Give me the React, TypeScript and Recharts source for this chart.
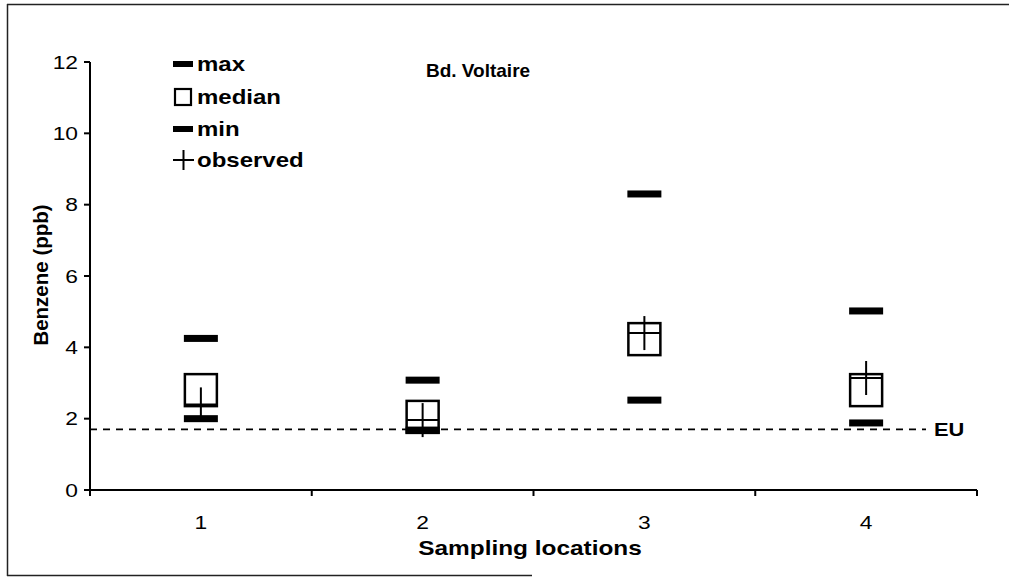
import React from "react";
import { ComposedChart, Scatter, XAxis, YAxis, ReferenceLine } from "recharts";

const FONT = "'Liberation Sans', Arial, sans-serif";

const locations = [1, 2, 3, 4];
const maxVals = [4.25, 3.08, 8.3, 5.02];
const medianVals = [2.8, 2.05, 4.23, 2.8];
const minVals = [2.0, 1.68, 2.52, 1.88];
const observedVals = [2.4, 1.96, 4.4, 3.14];
const euLimit = 1.7;
const yTicks = [0, 2, 4, 6, 8, 10, 12];
const xTicks = [0.5, 1, 1.5, 2, 2.5, 3, 3.5, 4, 4.5];

const toPoints = (vals: number[]) => locations.map((x, i) => ({ x, y: vals[i] }));

// the scanned original is a little stretched sideways, so text is widened
const SText = ({ x, y, size, bold, anchor = "start", sx = 1.2, children }: any) => (
  <g transform={`translate(${x},${y}) scale(${sx},1)`}>
    <text
      x={0}
      y={0}
      textAnchor={anchor}
      dominantBaseline="central"
      fontSize={size}
      fontWeight={bold ? "bold" : "normal"}
      fontFamily={FONT}
      fill="#000"
    >
      {children}
    </text>
  </g>
);

const BarMark = (p: any) => (
  <rect x={p.cx - 17} y={p.cy - 3.5} width={34} height={7} fill="#000" />
);
const BoxMark = (p: any) => (
  <rect x={p.cx - 16} y={p.cy - 16} width={32} height={32} fill="none" stroke="#000" strokeWidth={2.5} />
);
const PlusMark = (p: any) => (
  <g stroke="#000" strokeWidth={2}>
    <line x1={p.cx - 16} x2={p.cx + 16} y1={p.cy} y2={p.cy} />
    <line x1={p.cx} x2={p.cx} y1={p.cy - 17} y2={p.cy + 17} />
  </g>
);

const XTick = (p: any) => {
  const v = p.payload.value;
  if (Number.isInteger(v)) {
    return (
      <SText x={p.x} y={p.y + 26} size={19} anchor="middle">
        {v}
      </SText>
    );
  }
  return <line x1={p.x} x2={p.x} y1={p.y - 6} y2={p.y} stroke="#000" strokeWidth={2} />;
};

const YTick = (p: any) => (
  <SText x={p.x} y={p.y} size={19} anchor="end">
    {p.payload.value}
  </SText>
);

const legendRows = [
  { label: "max", y: 64 },
  { label: "median", y: 97 },
  { label: "min", y: 129 },
  { label: "observed", y: 160 },
];

const LegendIcon = ({ kind, y }: { kind: string; y: number }) => {
  if (kind === "median")
    return <rect x={175} y={y - 8} width={16} height={16} fill="none" stroke="#000" strokeWidth={2.2} />;
  if (kind === "observed")
    return (
      <g stroke="#000" strokeWidth={2}>
        <line x1={173} x2={194} y1={y} y2={y} />
        <line x1={183.5} x2={183.5} y1={y - 10} y2={y + 10} />
      </g>
    );
  return <rect x={173} y={y - 3} width={20} height={6} fill="#000" />;
};

const Overlay = () => (
  <svg
    width={1009}
    height={578}
    style={{ position: "absolute", left: 0, top: 0, pointerEvents: "none" }}
  >
    {/* scanned frame */}
    <g stroke="#222" strokeWidth={1.5}>
      <line x1={7} x2={1009} y1={4.5} y2={4.5} />
      <line x1={7.5} x2={7.5} y1={4} y2={576} />
      <line x1={7} x2={532} y1={575.5} y2={575.5} />
    </g>
    <SText x={478} y={70} size={19} bold anchor="middle" sx={1.0}>
      Bd. Voltaire
    </SText>
    {legendRows.map((r) => (
      <g key={r.label}>
        <LegendIcon kind={r.label} y={r.y} />
        <SText x={197} y={r.y} size={20} bold>
          {r.label}
        </SText>
      </g>
    ))}
  </svg>
);

export default function App() {
  return (
    <div style={{ position: "absolute", left: 0, top: 0, width: 1009, height: 578, background: "#fff" }}>
      <ComposedChart width={1009} height={578} margin={{ top: 62, right: 32, bottom: 48, left: 40 }}>
        <XAxis
          type="number"
          dataKey="x"
          domain={[0.5, 4.5]}
          ticks={xTicks}
          interval={0}
          tick={<XTick />}
          tickLine={false}
          tickSize={6}
          tickMargin={0}
          height={40}
          stroke="#000"
          strokeWidth={2}
          label={() => (
            <SText x={530} y={548} size={20} bold anchor="middle" sx={1.22}>
              Sampling locations
            </SText>
          )}
        />
        <YAxis
          type="number"
          dataKey="y"
          domain={[0, 12]}
          ticks={yTicks}
          interval={0}
          width={50}
          tickSize={6}
          tickMargin={6}
          stroke="#000"
          strokeWidth={2}
          tick={<YTick />}
          label={() => (
            <text
              x={40}
              y={275}
              transform="rotate(-90 40 275)"
              textAnchor="middle"
              dominantBaseline="central"
              fontSize={20.5}
              fontWeight="bold"
              fontFamily={FONT}
              fill="#000"
            >
              Benzene (ppb)
            </text>
          )}
        />
        <ReferenceLine
          segment={[
            { x: 0.5, y: euLimit },
            { x: 4.27, y: euLimit },
          ]}
          stroke="#000"
          strokeWidth={1.6}
          strokeDasharray="7 6"
          ifOverflow="visible"
          label={(props: any) => {
            const vb = props.viewBox || {};
            return (
              <SText x={(vb.x || 0) + (vb.width || 0) + 8} y={vb.y || 0} size={19} bold sx={1.15}>
                EU
              </SText>
            );
          }}
        />
        <Scatter name="max" data={toPoints(maxVals)} dataKey="y" shape={BarMark} isAnimationActive={false} />
        <Scatter name="median" data={toPoints(medianVals)} dataKey="y" shape={BoxMark} isAnimationActive={false} />
        <Scatter name="min" data={toPoints(minVals)} dataKey="y" shape={BarMark} isAnimationActive={false} />
        <Scatter name="observed" data={toPoints(observedVals)} dataKey="y" shape={PlusMark} isAnimationActive={false} />
      </ComposedChart>
      <Overlay />
    </div>
  );
}
